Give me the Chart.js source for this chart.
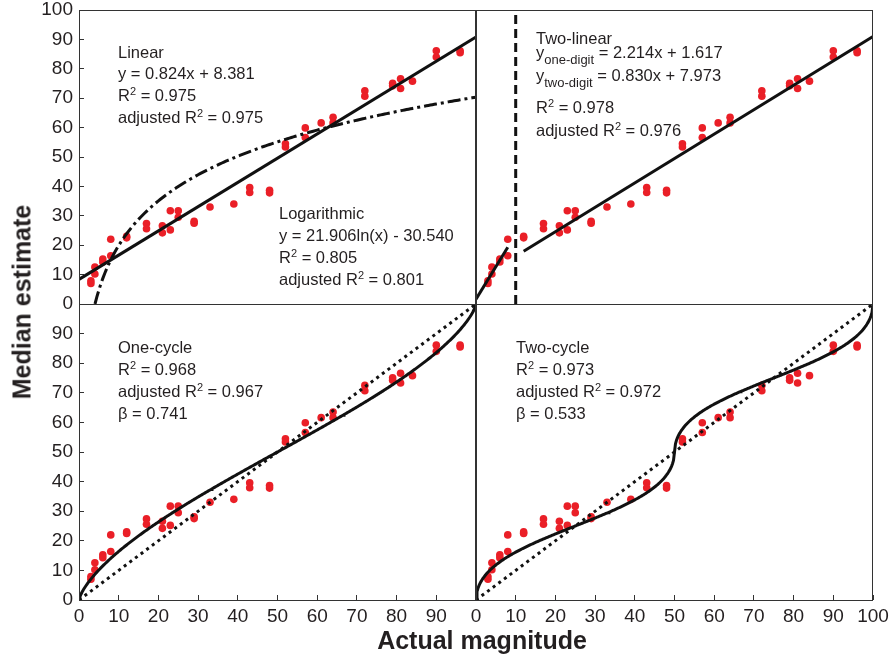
<!DOCTYPE html>
<html><head><meta charset="utf-8">
<script src="https://cdn.jsdelivr.net/npm/chart.js@4.4.1/dist/chart.umd.min.js"></script>
<style>
html,body{margin:0;padding:0;background:#fff;}
#wrap{position:relative;width:894px;height:660px;overflow:hidden;font-family:"Liberation Sans",Arial,sans-serif;color:#231f20;}
canvas{position:absolute;left:0;top:0;}
.t{position:absolute;font-size:16.5px;line-height:20px;white-space:nowrap;}
.t sup{font-size:11px;line-height:0;vertical-align:6px;}
.t sub{font-size:13px;line-height:0;vertical-align:-6px;}
.ax{position:absolute;font-weight:bold;font-size:25px;white-space:nowrap;line-height:25px;}
</style></head>
<body>
<div id="wrap">
<canvas id="c1" width="894" height="660"></canvas>
<canvas id="c2" width="894" height="660"></canvas>
<canvas id="c3" width="894" height="660"></canvas>
<canvas id="c4" width="894" height="660"></canvas>

<div class="t" style="left:118px;top:42px">Linear</div>
<div class="t" style="left:118px;top:63px">y = 0.824x + 8.381</div>
<div class="t" style="left:118px;top:85px">R<sup>2</sup> = 0.975</div>
<div class="t" style="left:118px;top:107px">adjusted R<sup>2</sup> = 0.975</div>

<div class="t" style="left:279px;top:203px">Logarithmic</div>
<div class="t" style="left:279px;top:225px">y = 21.906ln(x) - 30.540</div>
<div class="t" style="left:279px;top:247px">R<sup>2</sup> = 0.805</div>
<div class="t" style="left:279px;top:269px">adjusted R<sup>2</sup> = 0.801</div>

<div class="t" style="left:536px;top:28px">Two-linear</div>
<div class="t" style="left:536px;top:42px">y<sub>one-digit</sub> = 2.214x + 1.617</div>
<div class="t" style="left:536px;top:65px">y<sub>two-digit</sub> = 0.830x + 7.973</div>
<div class="t" style="left:536px;top:97px">R<sup>2</sup> = 0.978</div>
<div class="t" style="left:536px;top:120px">adjusted R<sup>2</sup> = 0.976</div>

<div class="t" style="left:118px;top:337px">One-cycle</div>
<div class="t" style="left:118px;top:359px">R<sup>2</sup> = 0.968</div>
<div class="t" style="left:118px;top:381px">adjusted R<sup>2</sup> = 0.967</div>
<div class="t" style="left:118px;top:403px">β = 0.741</div>

<div class="t" style="left:516px;top:337px">Two-cycle</div>
<div class="t" style="left:516px;top:359px">R<sup>2</sup> = 0.973</div>
<div class="t" style="left:516px;top:381px">adjusted R<sup>2</sup> = 0.972</div>
<div class="t" style="left:516px;top:403px">β = 0.533</div>

<div class="ax" style="left:22px;top:302px;transform:translate(-50%,-50%) rotate(-90deg);">Median estimate</div>
<div class="ax" style="left:482px;top:640px;transform:translate(-50%,-50%);">Actual magnitude</div>
</div>
<script>
// ---- data ----
const magnitudes = [3,3,4,4,6,6,8,8,12,12,17,17,21,21,23,23,25,25,29,29,33,39,43,43,48,48,52,52,57,57,61,64,64,72,72,79,79,81,81,84,90,90,96,96];
const estimates  = [7.9,7.0,10.2,12.6,15.3,14.3,16.4,22.0,23.0,22.5,27.4,25.6,26.6,24.2,31.7,25.2,31.7,29.5,28.1,27.5,33.0,34.0,39.6,37.9,38.7,37.8,54.5,53.4,59.9,56.6,61.6,63.5,61.6,72.5,70.7,75.1,74.2,76.6,73.3,75.8,86.1,84.0,86.1,85.5];
const axisTicks = [0,10,20,30,40,50,60,70,80,90,100];

// ---- fitted model parameters printed on the figure ----
const linearFit   = [0.824, 8.381];      // slope, intercept
const logFit      = [21.906, -30.540];   // a*ln(x) + b
const oneDigitFit = [2.214, 1.617];
const twoDigitFit = [0.830, 7.973];
const oneDigitRange = [0, 8];
const twoDigitRange = [12, 100];
const digitBoundary = [10];
const oneCycleBeta = [0.741];
const twoCycleBeta = [0.533];

const INK = '#231f20';
const LINE = '#111111';
const RED = '#ea1f27';

function sampleX(a, b, step) { const r = []; for (let x = a; x <= b + 1e-9; x += step) r.push(+x.toFixed(4)); return r; }
function cyc(t, beta) { const p = Math.pow(t, beta), q = Math.pow(1 - t, beta); return p / (p + q); }

const points = magnitudes.map((m, i) => ({x: m, y: estimates[i]}));

const linearLine = [0, 100].map(x => ({x, y: linearFit[0] * x + linearFit[1]}));
const logStart = Math.exp(-logFit[1] / logFit[0]);
const logLine = [logStart].concat(sampleX(4.5, 100, 0.5)).map(x => ({x, y: logFit[0] * Math.log(x) + logFit[1]}));
const oneDigitLine = oneDigitRange.map(x => ({x, y: oneDigitFit[0] * x + oneDigitFit[1]}));
const twoDigitLine = twoDigitRange.map(x => ({x, y: twoDigitFit[0] * x + twoDigitFit[1]}));
const boundaryLine = [{x: digitBoundary[0], y: 0}, {x: digitBoundary[0], y: 100}];
const identityLine = [{x: 0, y: 0}, {x: 100, y: 100}];
const oneCycleLine = sampleX(0, 100, 0.25).map(x => ({x, y: 100 * cyc(x / 100, oneCycleBeta[0])}));
const twoCycleLine = sampleX(0, 100, 0.25).map(x => ({x, y: x <= 50 ? 50 * cyc(x / 50, twoCycleBeta[0]) : 50 + 50 * cyc((x - 50) / 50, twoCycleBeta[0])}));

function lineDs(data, dash) {
  return {type: 'scatter', data, showLine: true, borderColor: LINE, borderWidth: 3, borderDash: dash || [],
          borderCapStyle: 'butt', pointRadius: 0, tension: 0, order: 0, fill: false};
}

const framePlugin = {
  id: 'frame',
  afterDraw(chart) {
    const {ctx, chartArea: a} = chart;
    ctx.save();
    ctx.strokeStyle = '#333';
    ctx.lineWidth = 1;
    ctx.strokeRect(Math.round(a.left) + 0.5, Math.round(a.top) + 0.5, Math.round(a.right - a.left) - 1, Math.round(a.bottom - a.top));
    ctx.restore();
  }
};

function panel(id, pad, showX, showY, hideX100, hideY100, lines) {
  const datasets = lines.concat([{type: 'scatter', data: points, showLine: false, pointRadius: 3.8,
    pointBackgroundColor: RED, pointBorderWidth: 0, pointHoverRadius: 3.8, order: 1}]);
  const tickFont = {family: '"Liberation Sans", Arial, sans-serif', size: 19, lineHeight: 1};
  new Chart(document.getElementById(id), {
    type: 'scatter',
    data: {datasets},
    options: {
      responsive: false, animation: false, events: [],
      layout: {padding: pad},
      plugins: {legend: {display: false}, tooltip: {enabled: false}},
      scales: {
        x: {type: 'linear', min: 0, max: 100, display: showX,
            afterFit: s => { s.height = showX ? 30 : 0; s.paddingLeft = 0; s.paddingRight = 0; },
            afterBuildTicks: s => { s.ticks = axisTicks.map(v => ({value: v})); },
            grid: {drawOnChartArea: false, drawTicks: true, tickLength: -5, color: '#333'},
            border: {display: false},
            ticks: {padding: 12, font: tickFont, color: INK, maxRotation: 0, autoSkip: false,
                    callback: v => (hideX100 && v === 100) ? '' : String(v)}},
        y: {type: 'linear', min: 0, max: 100, display: showY,
            afterFit: s => { s.width = showY ? 79 : 0; s.paddingTop = 0; s.paddingBottom = 0; },
            afterBuildTicks: s => { s.ticks = axisTicks.map(v => ({value: v})); },
            grid: {drawOnChartArea: false, drawTicks: true, tickLength: -5, color: '#333'},
            border: {display: false},
            ticks: {padding: 11, font: tickFont, color: INK, autoSkip: false,
                    callback: v => (hideY100 && v === 100) ? '' : String(v)}}
      }
    },
    plugins: [framePlugin]
  });
}

// top-left: linear + logarithmic
panel('c1', {left: 0, top: 10, right: 418, bottom: 356}, false, true, false, false,
      [lineDs(linearLine), lineDs(logLine, [13, 4, 3, 4])]);
// top-right: two-linear
panel('c2', {left: 476, top: 10, right: 21, bottom: 356}, false, false, false, false,
      [lineDs(oneDigitLine), lineDs(twoDigitLine), lineDs(boundaryLine, [9, 5])]);
// bottom-left: one-cycle
panel('c3', {left: 0, top: 304, right: 418, bottom: 30}, true, true, true, true,
      [lineDs(identityLine, [3, 4]), lineDs(oneCycleLine)]);
// bottom-right: two-cycle
panel('c4', {left: 476, top: 304, right: 21, bottom: 30}, true, false, false, false,
      [lineDs(identityLine, [3, 4]), lineDs(twoCycleLine)]);
</script>
</body></html>
